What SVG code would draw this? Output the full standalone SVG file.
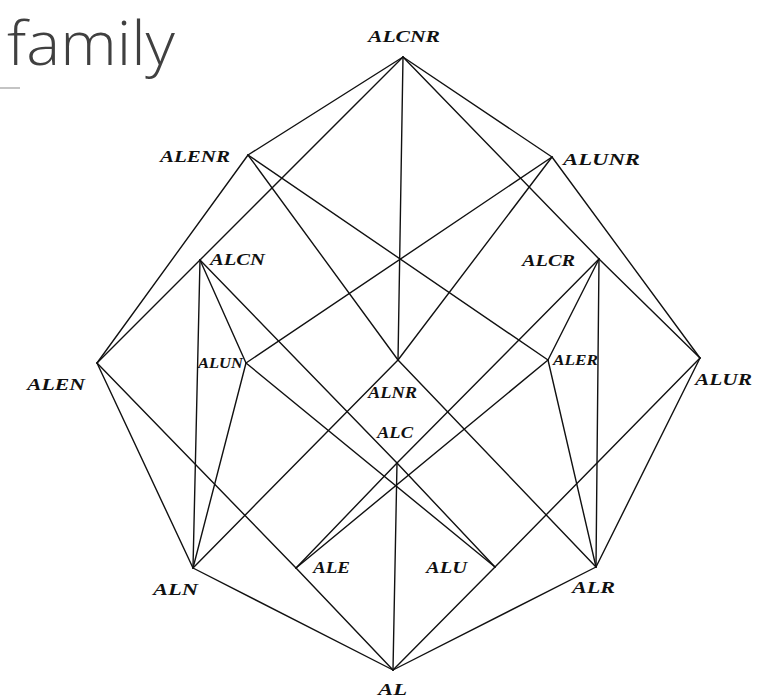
<svg xmlns="http://www.w3.org/2000/svg" width="760" height="699" viewBox="0 0 760 699">
<style>
.e{stroke:#111;stroke-width:1.4;fill:none;stroke-linecap:round}
.l{font-family:"Liberation Serif",serif;font-style:italic;font-weight:bold;font-size:17px;fill:#111}
.s{font-size:14px}
.m{font-size:16px}
.t{font-family:"Open Sans","Lato","Liberation Sans",sans-serif;font-weight:300;font-size:60px;fill:#404040}
</style>
<rect width="760" height="699" fill="#fff"/>
<text class="t" x="7" y="65" textLength="168" lengthAdjust="spacingAndGlyphs">family</text>
<line x1="0" y1="88" x2="20" y2="88" stroke="#c4c4c4" stroke-width="2"/>
<g id="connectors">
<line class="e" x1="393" y1="670" x2="193" y2="568"/>
<line class="e" x1="393" y1="670" x2="296" y2="568"/>
<line class="e" x1="393" y1="670" x2="397" y2="463"/>
<line class="e" x1="393" y1="670" x2="495" y2="567"/>
<line class="e" x1="393" y1="670" x2="596" y2="567"/>
<line class="e" x1="193" y1="568" x2="97" y2="363"/>
<line class="e" x1="193" y1="568" x2="200" y2="260"/>
<line class="e" x1="193" y1="568" x2="246" y2="363"/>
<line class="e" x1="193" y1="568" x2="398" y2="360"/>
<line class="e" x1="296" y1="568" x2="97" y2="363"/>
<line class="e" x1="296" y1="568" x2="397" y2="463"/>
<line class="e" x1="296" y1="568" x2="548" y2="360"/>
<line class="e" x1="495" y1="567" x2="700" y2="358"/>
<line class="e" x1="495" y1="567" x2="397" y2="463"/>
<line class="e" x1="495" y1="567" x2="246" y2="363"/>
<line class="e" x1="596" y1="567" x2="700" y2="358"/>
<line class="e" x1="596" y1="567" x2="599" y2="259"/>
<line class="e" x1="596" y1="567" x2="548" y2="360"/>
<line class="e" x1="596" y1="567" x2="398" y2="360"/>
<line class="e" x1="397" y1="463" x2="200" y2="260"/>
<line class="e" x1="397" y1="463" x2="599" y2="259"/>
<line class="e" x1="97" y1="363" x2="200" y2="260"/>
<line class="e" x1="97" y1="363" x2="248" y2="155"/>
<line class="e" x1="246" y1="363" x2="200" y2="260"/>
<line class="e" x1="246" y1="363" x2="552" y2="157"/>
<line class="e" x1="398" y1="360" x2="248" y2="155"/>
<line class="e" x1="398" y1="360" x2="552" y2="157"/>
<line class="e" x1="398" y1="360" x2="403" y2="57"/>
<line class="e" x1="548" y1="360" x2="599" y2="259"/>
<line class="e" x1="548" y1="360" x2="248" y2="155"/>
<line class="e" x1="700" y1="358" x2="599" y2="259"/>
<line class="e" x1="700" y1="358" x2="552" y2="157"/>
<line class="e" x1="200" y1="260" x2="403" y2="57"/>
<line class="e" x1="599" y1="259" x2="403" y2="57"/>
<line class="e" x1="248" y1="155" x2="403" y2="57"/>
<line class="e" x1="552" y1="157" x2="403" y2="57"/>
</g>
<g id="ALCNR"><text class="l" x="368" y="42" textLength="72" lengthAdjust="spacingAndGlyphs">ALCNR</text></g>
<g id="ALENR"><text class="l" x="160" y="162" textLength="70" lengthAdjust="spacingAndGlyphs">ALENR</text></g>
<g id="ALUNR"><text class="l" x="563" y="165" textLength="77" lengthAdjust="spacingAndGlyphs">ALUNR</text></g>
<g id="ALCN"><text class="l" x="210" y="265" textLength="55" lengthAdjust="spacingAndGlyphs">ALCN</text></g>
<g id="ALCR"><text class="l" x="522" y="266" textLength="53" lengthAdjust="spacingAndGlyphs">ALCR</text></g>
<g id="ALEN"><text class="l" x="27" y="390" textLength="58" lengthAdjust="spacingAndGlyphs">ALEN</text></g>
<g id="ALUN"><text class="l s" x="198" y="368" textLength="45" lengthAdjust="spacingAndGlyphs">ALUN</text></g>
<g id="ALNR"><text class="l m" x="368" y="398" textLength="49" lengthAdjust="spacingAndGlyphs">ALNR</text></g>
<g id="ALER"><text class="l s" x="553" y="365" textLength="45" lengthAdjust="spacingAndGlyphs">ALER</text></g>
<g id="ALUR"><text class="l" x="695" y="385" textLength="57" lengthAdjust="spacingAndGlyphs">ALUR</text></g>
<g id="ALC"><text class="l m" x="377" y="438" textLength="36" lengthAdjust="spacingAndGlyphs">ALC</text></g>
<g id="ALN"><text class="l" x="153" y="595" textLength="45" lengthAdjust="spacingAndGlyphs">ALN</text></g>
<g id="ALE"><text class="l" x="313" y="573" textLength="37" lengthAdjust="spacingAndGlyphs">ALE</text></g>
<g id="ALU"><text class="l" x="426" y="573" textLength="41" lengthAdjust="spacingAndGlyphs">ALU</text></g>
<g id="ALR"><text class="l" x="572" y="593" textLength="43" lengthAdjust="spacingAndGlyphs">ALR</text></g>
<g id="AL"><text class="l" x="378" y="695" textLength="29" lengthAdjust="spacingAndGlyphs">AL</text></g>
</svg>
